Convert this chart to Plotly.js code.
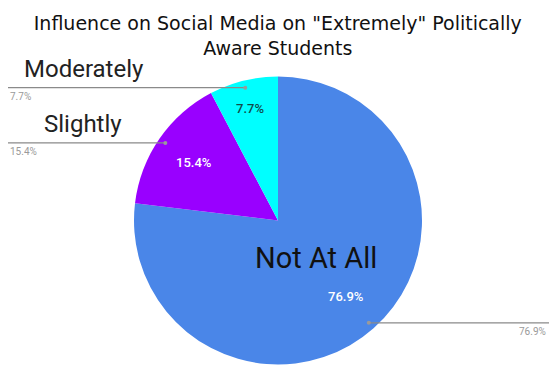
<!DOCTYPE html>
<html><head><meta charset="utf-8">
<script src="https://cdn.plot.ly/plotly-3.0.1.min.js"></script>
<style>html,body{margin:0;padding:0;background:#fff}#chart{width:549px;height:375px}</style>
</head><body><div id="chart"></div>
<script>
const categories = ['Not At All', 'Slightly', 'Moderately'];
const values = [76.9, 15.4, 7.7];
const pctLabels = ['76.9%', '15.4%', '7.7%'];
const colors = ['#4a86e8', '#9900ff', '#00ffff'];

const W = 549, H = 375;
const cx = 278, cy = 220.5, R = 144;
const px2x = p => p / W, px2y = p => 1 - p / H;

const total = values.reduce((a, b) => a + b, 0);
let cum = 0;
const mids = values.map(v => { const m = (cum + v / 2) / total * 2 * Math.PI; cum += v; return m; });
const pos = (i, f) => [cx + f * R * Math.sin(mids[i]), cy - f * R * Math.cos(mids[i])];

const annotations = [], shapes = [];
const inFrac = [0.71, 0.71, 0.8];
const inColor = ['#ffffff', '#ffffff', '#124a4a'];
values.forEach((v, i) => {
  const [x, y] = pos(i, inFrac[i]);
  annotations.push({xref:'paper', yref:'paper', x:px2x(x), y:px2y(y), text:pctLabels[i], showarrow:false,
    font:{family:'Roboto', size:13, color:inColor[i], weight:500}, xanchor:'center', yanchor:'middle'});
  const [dx, dy] = pos(i, 0.95);
  const left = dx < cx;
  const xEnd = left ? 8 : W;
  shapes.push({type:'line', xref:'paper', yref:'paper', x0:px2x(dx), y0:px2y(dy), x1:px2x(xEnd), y1:px2y(dy),
    line:{color:'#8a8a8a', width:1.2}});
  shapes.push({type:'circle', xref:'paper', yref:'paper', xsizemode:'pixel', ysizemode:'pixel',
    xanchor:px2x(dx), yanchor:px2y(dy), x0:-2, x1:2, y0:-2, y1:2, fillcolor:'#9a9a9a', line:{width:0}});
  annotations.push({xref:'paper', yref:'paper', x:left ? px2x(8) : px2x(W - 1), y:px2y(dy + 9), text:pctLabels[i],
    showarrow:false, font:{family:'Roboto', size:10, color:'#9a9a9a'}, xanchor:left ? 'left' : 'right', yanchor:'middle'});
  if (left) {
    annotations.push({xref:'paper', yref:'paper', x:px2x(i === 2 ? 22 : 42), y:px2y(dy - 19), text:categories[i],
      showarrow:false, font:{family:'Roboto', size:24, color:'#222222'}, xanchor:'left', yanchor:'middle'});
  } else {
    const [lx, ly] = pos(i, 0.4);
    annotations.push({xref:'paper', yref:'paper', x:px2x(lx), y:px2y(ly - 6), text:categories[i],
      showarrow:false, font:{family:'Roboto', size:29, color:'#111111'}, xanchor:'center', yanchor:'middle'});
  }
});

const data = [{
  type:'pie', labels:categories, values:values, sort:false, direction:'clockwise', rotation:0,
  marker:{colors:colors, line:{width:0}}, textinfo:'none', hoverinfo:'label+percent',
  domain:{x:[px2x(cx - R), px2x(cx + R)], y:[px2y(cy + R), px2y(cy - R)]}
}];

const layout = {
  width:W, height:H, margin:{l:0, r:0, t:0, b:0}, showlegend:false,
  paper_bgcolor:'#ffffff',
  title:{text:'Influence on Social Media on "Extremely" Politically<br>Aware Students',
    font:{family:'DejaVu Sans', size:19, color:'#111111'}, x:0.506, xanchor:'center',
    yref:'container', y:1 - 30 / H, yanchor:'middle'},
  annotations:annotations, shapes:shapes
};
Plotly.newPlot('chart', data, layout, {displayModeBar:false, staticPlot:true});
</script></body></html>
